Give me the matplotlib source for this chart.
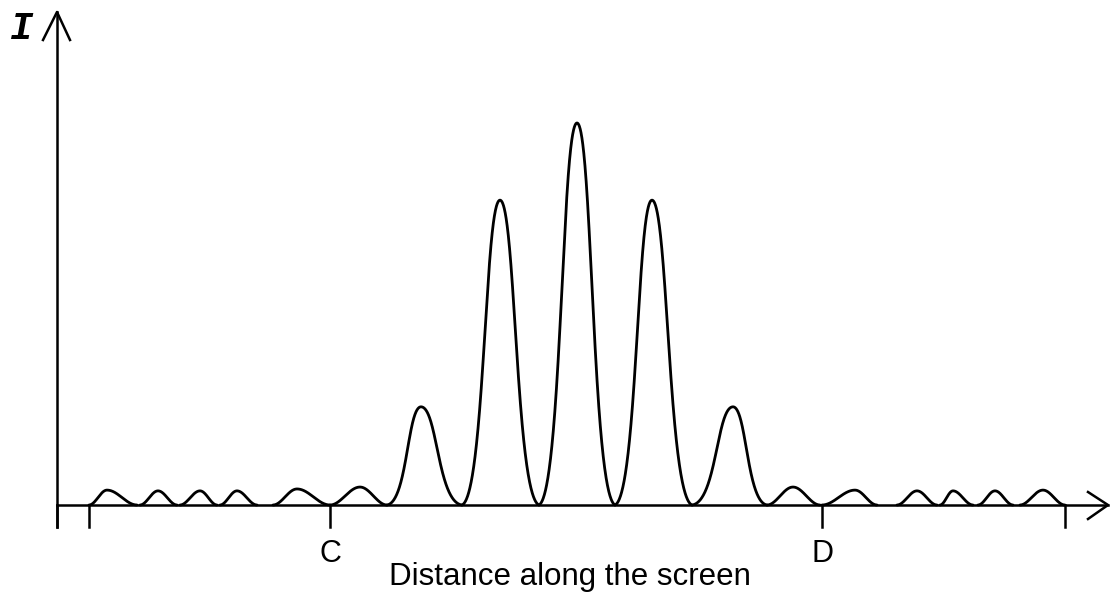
import matplotlib
matplotlib.use('Agg')
import matplotlib.pyplot as plt
import numpy as np

# lobes of the intensity pattern: start, peak, end (distance units) and peak height (relative to central max)
lobe_start = [32, 83, 123, 163, 216, 273, 330, 405, 482, 558, 635, 710, 765, 840, 883, 921, 963]
lobe_peak = [50, 101, 143, 180, 240, 303, 364, 443, 520, 595, 676, 736, 798, 860, 896, 938, 986]
lobe_end = [80, 120, 160, 200, 273, 330, 405, 482, 558, 635, 710, 763, 820, 880, 916, 956, 1008]
lobe_height = [0.039, 0.037, 0.037, 0.037, 0.042, 0.047, 0.257, 0.798, 1.0, 0.798, 0.257,
               0.047, 0.039, 0.037, 0.037, 0.037, 0.039]

tick_pos = [0, 32, 273, 765, 1008]
tick_labels = {273: 'C', 765: 'D'}

x_label = 'Distance along the screen'
y_label = 'I'

fig = plt.figure(figsize=(11.11, 5.92), dpi=100)
ax = fig.add_axes([0, 0, 1, 1])
ax.set_xlim(-57, 1054)
ax.set_ylim(-87 / 382, 505 / 382)
ax.axis('off')

lw = 2.0
ypx = 1 / 382


def half_lobe(big, n=200):
    # rising half of a lobe, from zero (0,0) to peak (1,1)
    t = np.linspace(0, 1, n)
    if big:
        p1x, p1y, p2x = 0.6, 0.03, 0.6
        hx = 3 * (1 - t) ** 2 * t * p1x + 3 * (1 - t) * t ** 2 * p2x + t ** 3
        hy = 3 * (1 - t) ** 2 * t * p1y + 3 * (1 - t) * t ** 2 + t ** 3
    else:
        hx = t
        hy = np.sin(np.pi * t / 2) ** 2
    return hx, hy


for a, p, b, h in zip(lobe_start, lobe_peak, lobe_end, lobe_height):
    hx, hy = half_lobe(h > 0.2)
    xs = np.concatenate([a + hx * (p - a), (b - hx * (b - p))[::-1]])
    ys = np.concatenate([hy, hy[::-1]]) * h
    ax.plot(xs, ys, color='black', lw=lw, solid_capstyle='round', solid_joinstyle='round')

# axes with open arrow heads
alw = 1.8
ax.plot([0, 0], [-22 * ypx, 493 * ypx], color='black', lw=alw)
ax.plot([-14, 0, 13], [465 * ypx, 493 * ypx, 465 * ypx], color='black', lw=alw)
ax.plot([0, 1051], [0, 0], color='black', lw=alw)
ax.plot([1031, 1051, 1031], [13 * ypx, 0, -14 * ypx], color='black', lw=alw)

for t in tick_pos:
    ax.plot([t, t], [0, -22 * ypx], color='black', lw=alw)
    if t in tick_labels:
        ax.text(t, -57 * ypx, tick_labels[t], ha='center', va='baseline',
                fontsize=22, family='Liberation Sans')

ax.text(513, -80 * ypx, x_label, ha='center', va='baseline',
        fontsize=22.5, family='Liberation Sans')
ax.text(-36, 466 * ypx, y_label, ha='center', va='baseline',
        fontsize=28, family='Liberation Mono', style='italic', weight='bold')

plt.savefig('out.png', dpi=100)
